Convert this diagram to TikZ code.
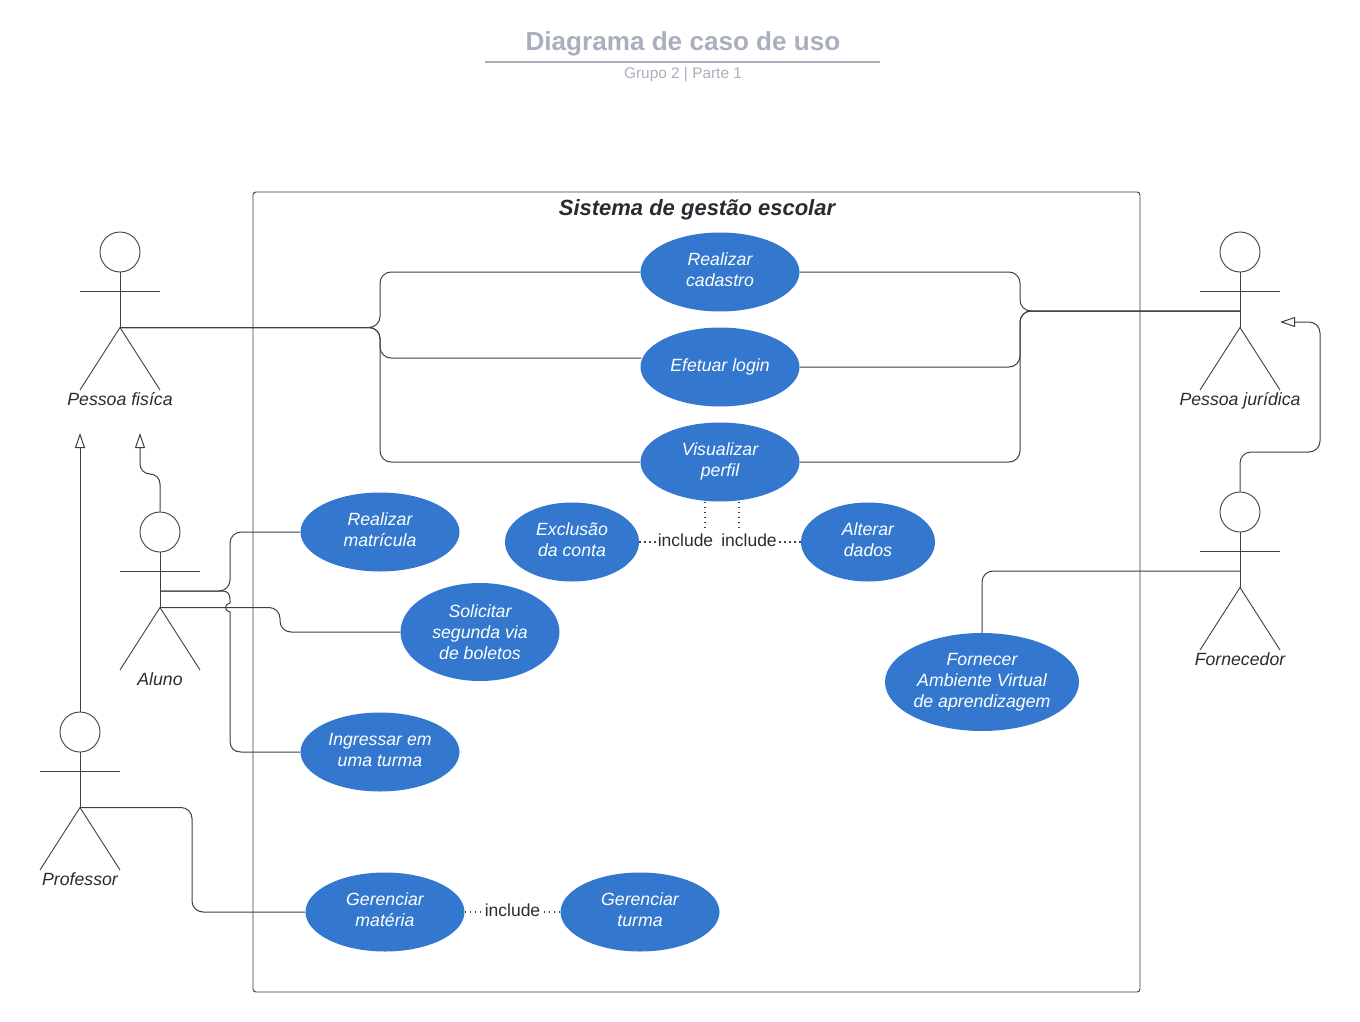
\documentclass[tikz,border=0pt]{standalone}
\usepackage{fontspec}
\setmainfont{Liberation Sans}
\usetikzlibrary{arrows.meta,positioning,calc,shapes.geometric}
\definecolor{caseBlue}{RGB}{51,120,206}
\definecolor{titleGray}{RGB}{169,175,188}
\definecolor{lineDark}{RGB}{58,65,74}
\definecolor{textDark}{RGB}{40,44,51}
\tikzset{
  usecase/.style={ellipse,fill=caseBlue,inner sep=0pt,align=center,text=white,
    font=\fontsize{17.7}{21}\selectfont\itshape,minimum width=159pt,minimum height=79pt},
  twolines/.style={usecase,text depth=4pt},
  actorhead/.style={circle,draw=lineDark,line width=0.9pt,fill=white,inner sep=0pt,minimum size=40pt},
  actorlabel/.style={font=\fontsize{17.7}{21}\selectfont\itshape,text=textDark,text height=13pt,text depth=4pt,inner sep=0pt},
  limb/.style={draw=lineDark,line width=0.9pt},
  link/.style={draw=lineDark,line width=1pt,rounded corners=11pt},
  inherit/.style={link,-{Triangle[open,length=15pt,width=10pt]}},
  incl/.style={draw=lineDark,line width=1.2pt,dash pattern=on 1.5pt off 3.5pt},
  incltext/.style={font=\fontsize{17.5}{21}\selectfont,text=textDark,inner sep=0pt}
}
% name, x, head y, label
\newcommand{\actor}[4]{
  \node[actorhead] (#1) at (#2,#3) {};
  \coordinate (#1Waist) at (#2,#3+59);
  \coordinate (#1Hip) at (#2,#3+75.5);
  \draw[limb] (#1) -- (#1Hip);
  \draw[limb] (#2-40,#3+39) -- (#2+40,#3+39);
  \draw[limb] (#2-40,#3+138) -- (#1Hip) -- (#2+40,#3+138);
  \node[actorlabel] (#1Label) at (#2,#3+149) {#4};
}
\begin{document}
\begin{tikzpicture}[x=1pt,y=-1pt]
  \useasboundingbox (0,0) rectangle (1360,1022);
  % title
  \node[font=\fontsize{26.1}{30}\selectfont\bfseries,text=titleGray] (title) at (683,44) {Diagrama de caso de uso};
  \draw[titleGray,line width=2pt] (485,62) -- (880,62);
  \node[font=\fontsize{15.4}{18}\selectfont,text=titleGray] (subtitle) at (683,75) {Grupo 2 | Parte 1};
  % system box
  \draw[lineDark,line width=0.9pt,rounded corners=3pt] (253,192) rectangle (1140,992);
  \node[font=\fontsize{22}{26}\selectfont\bfseries\itshape,text=textDark] (system) at (697,210) {Sistema de gestão escolar};
  % use cases
  \node[twolines] (cadastro) at (720,272) {Realizar\\cadastro};
  \node[usecase] (login) at (720,367) {Efetuar login};
  \node[twolines] (perfil) at (720,462) {Visualizar\\perfil};
  \node[twolines,minimum width=134pt] (exclusao) at (572,542) {Exclusão\\da conta};
  \node[twolines,minimum width=134pt] (alterar) at (868,542) {Alterar\\dados};
  \node[twolines] (matricula) at (380,532) {Realizar\\matrícula};
  \node[usecase,minimum height=98pt] (boletos) at (480,632) {Solicitar\\segunda via\\de boletos};
  \node[twolines] (ingressar) at (380,752) {Ingressar em\\uma turma};
  \node[usecase,minimum width=194pt,minimum height=98pt] (ambiente) at (982,682) {Fornecer\\Ambiente Virtual\\de aprendizagem};
  \node[twolines] (materia) at (385,912) {Gerenciar\\matéria};
  \node[twolines] (turma) at (640,912) {Gerenciar\\turma};
  % actors
  \actor{fisica}{120}{252}{Pessoa fisíca}
  \actor{juridica}{1240}{252}{Pessoa jurídica}
  \actor{aluno}{160}{532}{Aluno}
  \actor{fornecedor}{1240}{512}{Fornecedor}
  \actor{professor}{80}{732}{Professor}
  % pessoa fisica links
  \coordinate (loginIn) at ($(login.west)+(1,-9)$);
  \draw[link] (fisicaHip) -- (380,327.5) -- (380,272) -- (cadastro.west);
  \draw[link] (fisicaHip) -- (380,327.5) -- (380,358) -- (loginIn);
  \draw[link] (fisicaHip) -- (380,327.5) -- (380,462) -- (perfil.west);
  % pessoa juridica links
  \draw[link] (juridicaWaist) -- (1020,311) -- (1020,272) -- (cadastro.east);
  \draw[link] (juridicaWaist) -- (1020,311) -- (1020,367) -- (login.east);
  \draw[link] (juridicaWaist) -- (1020,311) -- (1020,462) -- (perfil.east);
  % aluno links
  \draw[link] (alunoWaist) -- (230,591) -- (230,532) -- (matricula.west);
  \draw[link] (alunoHip) -- (280,607.5) -- (280,632) -- (boletos.west);
  \draw[link,sharp corners] (alunoWaist) -- (222,591) .. controls (228,591) and (230,594) .. (230,600) -- (230,603)
    .. controls (224,604) and (224,611) .. (230,612) -- (230,741) .. controls (230,748) and (234,752) .. (241,752) -- (ingressar.west);
  % others
  \draw[link] (professorHip) -- (192,807.5) -- (192,912) -- (materia.west);
  \draw[link] (fornecedorWaist) -- (982,571) -- (ambiente.north);
  % generalizations
  \coordinate (fisicaTipA) at (80,433);
  \coordinate (fisicaTipB) at (140,433);
  \coordinate (juridicaTip) at (1280,322);
  \draw[inherit] (professor.north) -- (fisicaTipA);
  \draw[inherit,rounded corners=10pt] (aluno.north) -- (160,474) -- (140,474) -- (fisicaTipB);
  \draw[inherit] (fornecedor.north) -- (1240,452) -- (1320,452) -- (1320,322) -- (juridicaTip);
  % includes
  \node[incltext] (inclA) at (685.5,540) {include};
  \node[incltext] (inclB) at (749,540) {include};
  \node[incltext] (inclC) at (512.5,910) {include};
  \coordinate (dropA) at (705,531);
  \coordinate (dropB) at (739,531);
  \draw[incl] (exclusao.east) -- (inclA.west |- exclusao.east);
  \draw[incl] (alterar.west) -- (inclB.east |- alterar.west);
  \draw[incl] (perfil.south -| dropA) -- (dropA);
  \draw[incl] (perfil.south -| dropB) -- (dropB);
  \draw[incl] (materia.east) -- (inclC.west |- materia.east);
  \draw[incl] (turma.west) -- (inclC.east |- turma.west);
\end{tikzpicture}
\end{document}
